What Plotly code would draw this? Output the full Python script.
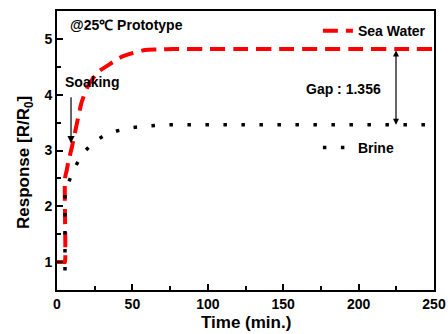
import plotly.graph_objects as go

# Data
sea_x = [0, 2, 4, 5, 5.3, 5.3, 6.5, 7.5, 9.7, 13, 16.4, 20.8, 27.4, 34, 42.9, 49.5, 58.4, 67, 77, 100, 125, 150, 175, 200, 225, 250]
sea_y = [1, 1, 1, 1, 1.0, 2.5, 2.65, 2.80, 3.04, 3.46, 3.87, 4.17, 4.41, 4.53, 4.68, 4.74, 4.80, 4.81, 4.82, 4.82, 4.82, 4.82, 4.82, 4.82, 4.82, 4.82]

brine_x = [5.3, 5.3, 5.3, 7.3, 10.6, 16.3, 23.4, 31.8, 39.6, 49.5, 59.5, 75, 88, 100, 125, 150, 175, 200, 225, 250]
brine_y = [0.85, 1.86, 2.3, 2.4, 2.63, 2.92, 3.13, 3.28, 3.35, 3.41, 3.44, 3.46, 3.46, 3.46, 3.46, 3.46, 3.46, 3.46, 3.46, 3.46]

x_ticks = [0, 50, 100, 150, 200, 250]
y_ticks = [1, 2, 3, 4, 5]

gap_x = 224.8
gap_top = 4.82
gap_bottom = 3.46

FONT = "Liberation Sans, Arial, sans-serif"

fig = go.Figure()
fig.add_trace(go.Scatter(x=sea_x, y=sea_y, mode="lines", name="Sea Water",
                         line=dict(color="#ff0000", width=4, dash="15px,8px", shape="spline", smoothing=0.6),
                         legend="legend"))
fig.add_trace(go.Scatter(x=brine_x, y=brine_y, mode="lines", name="Brine",
                         line=dict(color="black", width=3.5, dash="3.5px,14.5px"),
                         legend="legend2"))

axis_common = dict(showline=True, linecolor="black", linewidth=2, mirror=True,
                   ticks="inside", tickcolor="black", tickwidth=1.5, ticklen=6,
                   showgrid=False, zeroline=False, automargin=False,
                   tickfont=dict(family=FONT, size=14, color="black", weight="bold"))

fig.update_xaxes(range=[0, 250], tickvals=x_ticks,
                 minor=dict(dtick=25, ticks="inside", ticklen=4, tickcolor="black", tickwidth=1.5),
                 **axis_common)
fig.update_yaxes(range=[0.5, 5.5], tickvals=y_ticks,
                 minor=dict(dtick=0.5, ticks="inside", ticklen=4, tickcolor="black", tickwidth=1.5),
                 **axis_common)

legend_common = dict(bgcolor="rgba(0,0,0,0)", borderwidth=0, xanchor="left", yanchor="middle",
                     font=dict(family=FONT, size=14, color="black", weight="bold"),
                     tracegroupgap=0, itemwidth=30)
fig.update_layout(
    width=448, height=334,
    margin=dict(l=57, r=14, t=11, b=44, autoexpand=False),
    paper_bgcolor="white", plot_bgcolor="white",
    showlegend=True,
    legend=dict(x=0.692, y=0.928, **legend_common),
    legend2=dict(x=0.692, y=0.509, **legend_common),
)

plot_w = 448 - 57 - 14
plot_h = 334 - 11 - 44

title_font = dict(family=FONT, size=17, color="black", weight="bold")
fig.add_annotation(x=0.5, y=(290 - 322) / plot_h, xref="paper", yref="paper", text="Time (min.)", showarrow=False,
                   xanchor="center", yanchor="middle", font=title_font)
fig.add_annotation(x=(25 - 57) / plot_w, y=(290 - 163) / plot_h, xref="paper", yref="paper",
                   text="Response [R/R<sub>0</sub>]", showarrow=False,
                   textangle=-90, xanchor="center", yanchor="middle", font=title_font)

ann_font = dict(family=FONT, size=14, color="black", weight="bold")
fig.add_annotation(x=7.3, y=5.25, xref="x", yref="y", text="@25℃ Prototype", showarrow=False,
                   xanchor="left", yanchor="middle", font=ann_font)
fig.add_annotation(x=23.5, y=4.23, xref="x", yref="y", text="Soaking", showarrow=False,
                   xanchor="center", yanchor="middle", font=ann_font)
fig.add_annotation(x=9.3, y=3.13, xref="x", yref="y", axref="x", ayref="y", ax=9.3, ay=3.98,
                   text="", showarrow=True, arrowhead=2, arrowsize=1.2, arrowwidth=1.2, arrowcolor="black", standoff=0)
fig.add_annotation(x=190.3, y=4.10, xref="x", yref="y", text="Gap : 1.356", showarrow=False,
                   xanchor="center", yanchor="middle", font=ann_font)
fig.add_annotation(x=gap_x, y=gap_bottom, xref="x", yref="y", axref="x", ayref="y", ax=gap_x, ay=gap_top,
                   text="", showarrow=True, arrowhead=2, startarrowhead=2, arrowside="end+start",
                   arrowsize=1.0, startarrowsize=1.0, arrowwidth=1.2, arrowcolor="black", standoff=0, startstandoff=0)

fig.write_html("out.html", config={"displayModeBar": False},
               post_script="document.body.style.margin='0px';document.body.style.overflow='hidden';")
